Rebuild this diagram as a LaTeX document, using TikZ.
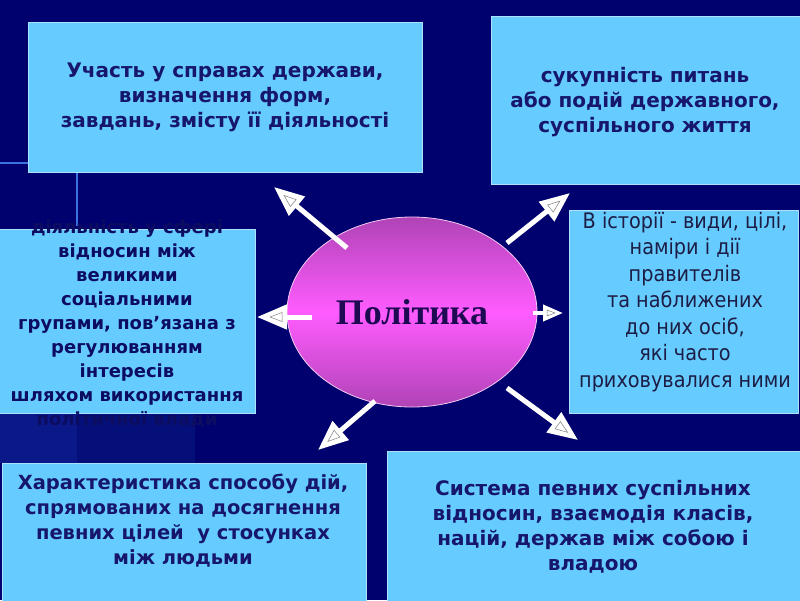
\documentclass[tikz,border=0pt]{standalone}
\usepackage{fontspec}
\setmainfont{DejaVu Sans}
\newfontfamily\boxfont{DejaVu Sans}
\newfontfamily\sidefont[FakeStretch=0.9]{DejaVu Sans}
\newfontfamily\titlefont{Liberation Serif}
\usetikzlibrary{arrows.meta,shapes.geometric,decorations.markings}
\definecolor{bg}{HTML}{00006E}
\definecolor{bgA}{HTML}{0A1888}
\definecolor{bgB}{HTML}{040F7A}
\definecolor{glow}{HTML}{3A72E0}
\definecolor{cyanbox}{HTML}{66CCFF}
\definecolor{boxedge}{HTML}{A8E2FF}
\definecolor{navytext}{HTML}{16166A}
\definecolor{ovtext}{HTML}{0C0C60}
\definecolor{darktext}{HTML}{1C1C44}
\definecolor{titletext}{HTML}{1E0A52}
\definecolor{ovtop}{HTML}{B043B6}
\definecolor{ovmid}{HTML}{FF5CFF}
\definecolor{ovedge}{HTML}{F4C8F4}
\tikzset{
  panel/.style={draw=boxedge, line width=0.8pt, fill=cyanbox, inner sep=0pt, outer sep=0pt},
  boldtxt/.style={font=\boxfont\bfseries\fontsize{20}{25}\selectfont, text=navytext, align=center, inner sep=0pt},
  widetxt/.style={font=\boxfont\bfseries\fontsize{18}{24}\selectfont, text=ovtext, align=center, inner sep=0pt},
  sidetxt/.style={font=\sidefont\fontsize{21.4}{26.5}\selectfont, text=darktext, align=center, inner sep=0pt},
  arr/.style={draw=white, line width=5pt, -{Triangle[length=30pt,width=24pt]},
    postaction={decorate, decoration={markings, mark=at position 1 with
      {\draw[gray, line width=0.5pt] (-13pt,0pt) -- (-25pt,4.5pt) -- (-25pt,-4.5pt) -- cycle;}}}},
  arrsmall/.style={draw=white, line width=4pt, -{Triangle[length=20pt,width=16pt]},
    postaction={decorate, decoration={markings, mark=at position 1 with
      {\draw[gray, line width=0.5pt] (-8pt,0pt) -- (-16pt,3pt) -- (-16pt,-3pt) -- cycle;}}}},
}
\begin{document}
\begin{tikzpicture}[x=1pt,y=-1pt]
\useasboundingbox (0,0) rectangle (800,600);
% background
\fill[bg] (0,0) rectangle (800,600);
\fill[bgA] (0,413) rectangle (77,463);
\fill[bgB] (77,413) rectangle (195,463);
\draw[glow, line width=1.5pt] (0,163) -- (28,163);
\draw[glow, line width=1.2pt] (77,172) -- (77,226);

% panels
\node[panel, minimum width=394pt, minimum height=150pt] (b1) at (225,97) {};
\node[panel, minimum width=310pt, minimum height=168pt] (b2) at (646,100) {};
\node[panel, minimum width=257pt, minimum height=184pt] (b3) at (126.5,321) {};
\node[panel, minimum width=229pt, minimum height=203pt] (b4) at (683.5,311.5) {};
\node[panel, minimum width=364pt, minimum height=138pt] (b5) at (184,532) {};
\node[panel, minimum width=415pt, minimum height=150pt] (b6) at (594.5,526) {};

% texts
\node[boldtxt] (t1) at (225,97) {Участь у справах держави,\\визначення форм,\\завдань, змісту її діяльності};
\node[boldtxt] (t2) at (645,102) {сукупність питань\\або подій державного,\\суспільного життя};
\node[widetxt] (t3) at (127,324) {діяльність у сфері\\відносин між\\великими\\соціальними\\групами, пов’язана з\\регулюванням\\інтересів\\шляхом використання\\політичної влади};
\node[sidetxt] (t4) at (685,302) {В історії - види, цілі,\\наміри і дії\\правителів\\та наближених\\до них осіб,\\які часто\\приховувалися ними};
\node[boldtxt, font=\boxfont\bfseries\fontsize{19.5}{25}\selectfont] (t5) at (183,520.5) {Характеристика способу дій,\\спрямованих на досягнення\\певних цілей \ у стосунках\\між людьми};
\node[boldtxt] (t6) at (593,526.5) {Система певних суспільних\\відносин, взаємодія класів,\\націй, держав між собою і\\владою};

% central ellipse
\node[ellipse, minimum width=250pt, minimum height=190pt, inner sep=0pt,
      top color=ovtop, bottom color=ovtop, middle color=ovmid,
      draw=ovedge, line width=0.8pt,
      font=\titlefont\bfseries\fontsize{36}{40}\selectfont, text=titletext] (pol) at (412,312) {Політика};

% arrows
\coordinate (a1s) at (347,248); \coordinate (a1e) at (274,187);
\coordinate (a2s) at (507,243); \coordinate (a2e) at (570,193);
\coordinate (a3s) at (312,317); \coordinate (a3e) at (257,317);
\coordinate (a4s) at (533,313); \coordinate (a4e) at (563,313);
\coordinate (a5s) at (375,401); \coordinate (a5e) at (318,450);
\coordinate (a6s) at (507,388); \coordinate (a6e) at (578,440);
\draw[arr] (a1s) -- (a1e);
\draw[arr] (a2s) -- (a2e);
\draw[arr] (a3s) -- (a3e);
\draw[arrsmall] (a4s) -- (a4e);
\draw[arr] (a5s) -- (a5e);
\draw[arr] (a6s) -- (a6e);
\end{tikzpicture}
\end{document}
